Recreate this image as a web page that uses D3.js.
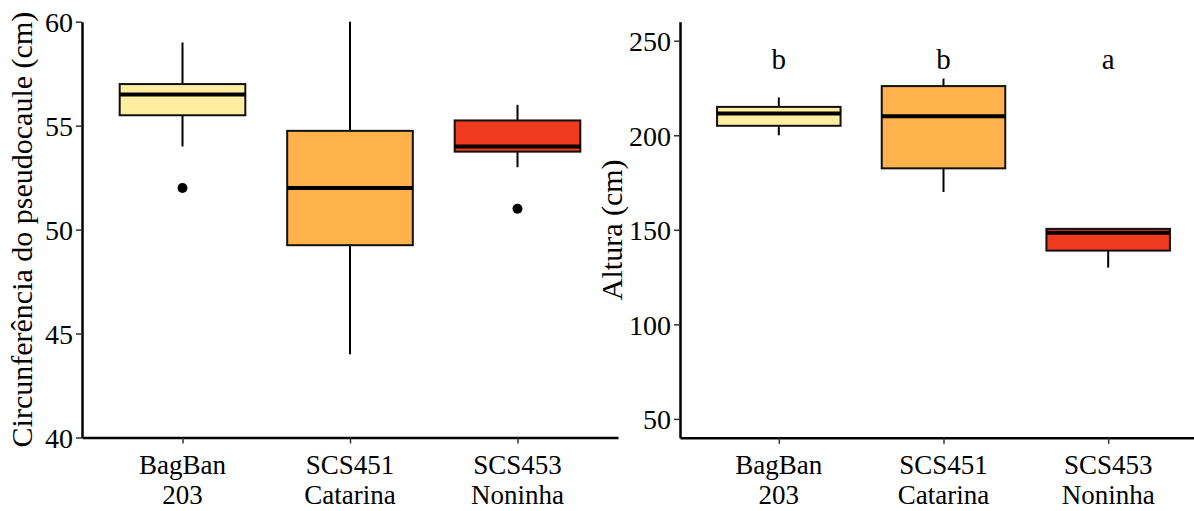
<!DOCTYPE html>
<html>
<head>
<meta charset="utf-8">
<script src="https://cdn.jsdelivr.net/npm/d3@7"></script>
<style>
  body { margin: 0; background: #fff; }
  svg text { font-family: "Liberation Serif", "DejaVu Serif", serif; fill: #000; }
</style>
</head>
<body>
<div id="chart"></div>
<script>
// categories (two lines per label)
const categories = ["BagBan 203", "SCS451 Catarina", "SCS453 Noninha"];
const labelTop = ["BagBan", "SCS451", "SCS453"];
const labelBottom = ["203", "Catarina", "Noninha"];
const fills = ["#FFEDA0", "#FEB24C", "#F03B20"];

// left panel: circunferencia (cm)  [lowWhisker, q1, median, q3, highWhisker]
const circLow = [54, 44, 53];
const circQ1 = [55.5, 49.25, 53.75];
const circMed = [56.5, 52, 54];
const circQ3 = [57, 54.75, 55.25];
const circHigh = [59, 60, 56];
const circOutliers = [[52], [], [51]];
const circTicks = [40, 45, 50, 55, 60];

// right panel: altura (cm)
const altLow = [200, 170, 130];
const altQ1 = [205, 182.5, 139];
const altMed = [211.5, 210, 148.5];
const altQ3 = [215, 226, 150.5];
const altHigh = [220, 230, 150.5];
const altOutliers = [[], [], []];
const altTicks = [50, 100, 150, 200, 250];
const altLetters = ["b", "b", "a"];
const letterY = 235;

const W = 1194, H = 511;
const svg = d3.select("#chart").append("svg")
  .attr("width", W)
  .attr("height", H);

function panel(opts) {
  const g = svg.append("g");

  const x = d3.scalePoint()
    .domain(categories)
    .range(opts.xRange)
    .padding(0.6);
  const y = d3.scaleLinear()
    .domain(opts.yDomain)
    .range(opts.yRange);
  const bw = x.step() * 0.75;

  // y axis
  const ya = g.append("g")
    .attr("transform", `translate(${opts.xRange[0]},0)`)
    .call(d3.axisLeft(y).tickValues(opts.ticks).tickSize(6).tickSizeOuter(0).tickPadding(3));
  ya.select(".domain").attr("stroke-width", 2.5);
  ya.selectAll(".tick line").attr("stroke-width", 1.5).attr("stroke", "#333");
  ya.selectAll(".tick text").style("font-size", "28px").attr("dy", "0.35em");

  // x axis
  const xa = g.append("g")
    .attr("transform", `translate(0,${opts.yRange[0]})`)
    .call(d3.axisBottom(x).tickSize(6).tickSizeOuter(0).tickFormat(""));
  xa.select(".domain").attr("stroke-width", 2.5);
  xa.selectAll(".tick line").attr("stroke-width", 1.5).attr("stroke", "#333");
  xa.selectAll(".tick text").remove();

  const lab = g.append("g").selectAll("text")
    .data(categories)
    .join("text")
    .attr("text-anchor", "middle")
    .style("font-size", "27px")
    .attr("transform", d => `translate(${x(d)},${opts.yRange[0] + 36})`);
  lab.append("tspan").attr("x", 0).attr("y", 0).text((d, i) => labelTop[i]);
  lab.append("tspan").attr("x", 0).attr("y", 30).text((d, i) => labelBottom[i]);

  // y title
  const yMid = (opts.yRange[0] + opts.yRange[1]) / 2;
  g.append("text")
    .attr("transform", `translate(${opts.titleX},${yMid}) rotate(-90)`)
    .attr("text-anchor", "middle")
    .style("font-size", "30px")
    .text(opts.title);

  // boxes
  const boxes = g.append("g").selectAll("g")
    .data(categories)
    .join("g");

  boxes.append("line")
    .attr("x1", d => x(d)).attr("x2", d => x(d))
    .attr("y1", (d, i) => y(opts.high[i]))
    .attr("y2", (d, i) => y(opts.q3[i]))
    .attr("stroke", "#000").attr("stroke-width", 2);
  boxes.append("line")
    .attr("x1", d => x(d)).attr("x2", d => x(d))
    .attr("y1", (d, i) => y(opts.q1[i]))
    .attr("y2", (d, i) => y(opts.low[i]))
    .attr("stroke", "#000").attr("stroke-width", 2);
  boxes.append("rect")
    .attr("x", d => x(d) - bw / 2)
    .attr("width", bw)
    .attr("y", (d, i) => y(opts.q3[i]))
    .attr("height", (d, i) => y(opts.q1[i]) - y(opts.q3[i]))
    .attr("fill", (d, i) => fills[i])
    .attr("stroke", "#111").attr("stroke-width", 2);
  boxes.append("line")
    .attr("x1", d => x(d) - bw / 2).attr("x2", d => x(d) + bw / 2)
    .attr("y1", (d, i) => y(opts.med[i]))
    .attr("y2", (d, i) => y(opts.med[i]))
    .attr("stroke", "#000").attr("stroke-width", 4);

  boxes.selectAll("circle")
    .data((d, i) => opts.outliers[i].map(v => ({ cat: d, v: v })))
    .join("circle")
    .attr("cx", d => x(d.cat))
    .attr("cy", d => y(d.v))
    .attr("r", 5)
    .attr("fill", "#000");

  if (opts.letters) {
    g.append("g").selectAll("text")
      .data(categories)
      .join("text")
      .attr("x", d => x(d))
      .attr("y", y(opts.letterY))
      .attr("text-anchor", "middle")
      .style("font-size", "29px")
      .text((d, i) => opts.letters[i]);
  }
}

panel({
  xRange: [82, 618], yDomain: [40, 60], yRange: [437.5, 21.7],
  ticks: circTicks, title: "Circunferência do pseudocaule (cm)", titleX: 32,
  low: circLow, q1: circQ1, med: circMed, q3: circQ3, high: circHigh, outliers: circOutliers
});

panel({
  xRange: [680, 1207], yDomain: [40, 260], yRange: [437.8, 21.8],
  ticks: altTicks, title: "Altura (cm)", titleX: 622,
  low: altLow, q1: altQ1, med: altMed, q3: altQ3, high: altHigh, outliers: altOutliers,
  letters: altLetters, letterY: letterY
});
</script>
</body>
</html>
